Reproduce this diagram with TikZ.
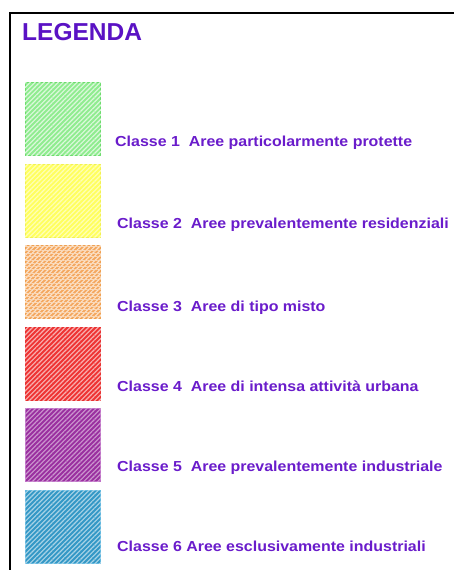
\documentclass[tikz,border=0pt]{standalone}
\usepackage{fontspec}
\setmainfont{Liberation Sans}
\newfontfamily\labfont[FakeStretch=1.1]{Liberation Sans}
\usetikzlibrary{patterns.meta}
\definecolor{txt}{HTML}{6A1CCB}
\definecolor{ttl}{HTML}{5A12C4}
\definecolor{g1}{HTML}{90EC90}\definecolor{g1b}{HTML}{6CDC6C}
\definecolor{y1}{HTML}{FFFF60}\definecolor{y1b}{HTML}{F2F250}
\definecolor{o1}{HTML}{F4A860}\definecolor{o1b}{HTML}{F0A050}
\definecolor{r1}{HTML}{EE3434}\definecolor{r1b}{HTML}{E83030}
\definecolor{p1}{HTML}{9A30A0}\definecolor{p1b}{HTML}{C070C8}
\definecolor{b1}{HTML}{3498C6}\definecolor{b1b}{HTML}{60B8E0}
\tikzset{
  swatch/.style 2 args={draw=#2, line width=0.8pt, fill=#1, minimum width=75pt, minimum height=73pt, inner sep=0pt, anchor=north west},
  stripes/.style={pattern={Lines[angle=45,distance=3.3pt,line width=1.1pt]}, pattern color=#1},
  lab/.style={anchor=base west, inner sep=0pt, text=txt, font=\labfont\bfseries\fontsize{14.5}{16}\selectfont},
  frameline/.style={line width=2pt, black}
}
\begin{document}
\begin{tikzpicture}[x=1pt,y=-1pt]
\useasboundingbox (0,0) rectangle (454,570);
\fill[white] (0,0) rectangle (454,570);
\coordinate (tl) at (10,13);
\coordinate (tr) at (454,13);
\coordinate (bl) at (10,570);
\draw[frameline] (tr) -- (tl) -- (bl);
\node[anchor=base west, inner sep=0pt, text=ttl, font=\bfseries\fontsize{24.5}{28}\selectfont] (title) at (22,40) {LEGENDA};
% swatches
\node[swatch={g1}{g1b}] (s1) at (25,82) {};
\fill[stripes=white!70!g1] (s1.south west) rectangle (s1.north east);
\node[swatch={y1}{y1b}] (s2) at (25,164) {};
\fill[stripes=white!55!y1] (s2.south west) rectangle (s2.north east);
\node[swatch={o1}{o1b}] (s3) at (25,245) {};
\fill[pattern={Lines[angle=45,distance=3.3pt,line width=1.1pt]}, pattern color=white!70!o1] (s3.south west) rectangle (s3.north east);
\fill[pattern={Lines[angle=0,distance=3.3pt,line width=0.5pt]}, pattern color=white!55!o1] (s3.south west) rectangle (s3.north east);
\node[swatch={r1}{r1b}] (s4) at (25,327) {};
\fill[stripes=white!62!r1] (s4.south west) rectangle (s4.north east);
\node[swatch={p1}{p1b}] (s5) at (25,408) {};
\fill[stripes=white!50!p1] (s5.south west) rectangle (s5.north east);
\node[swatch={b1}{b1b}] (s6) at (25,490) {};
\fill[stripes=white!58!b1] (s6.south west) rectangle (s6.north east);
% labels
\node[lab] (l1) at (115,146) {Classe 1\ \ Aree particolarmente protette};
\node[lab] (l2) at (117,228) {Classe 2\ \ Aree prevalentemente residenziali};
\node[lab] (l3) at (117,311) {Classe 3\ \ Aree di tipo misto};
\node[lab] (l4) at (117,391) {Classe 4\ \ Aree di intensa attività urbana};
\node[lab] (l5) at (117,471) {Classe 5\ \ Aree prevalentemente industriale};
\node[lab] (l6) at (117,551) {Classe 6 Aree esclusivamente industriali};
\end{tikzpicture}
\end{document}
